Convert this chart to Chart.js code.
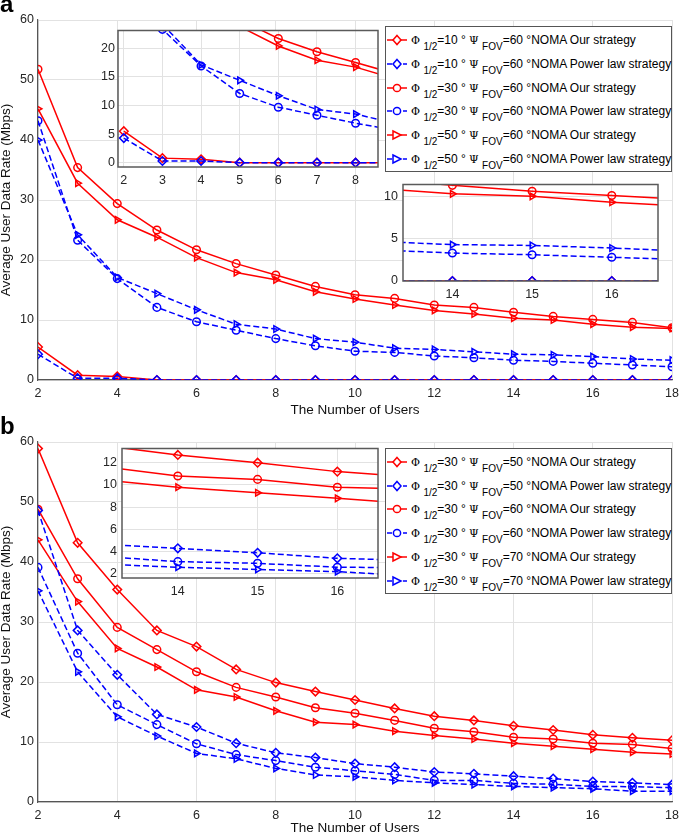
<!DOCTYPE html>
<html>
<head>
<meta charset="utf-8">
<script src="https://cdn.jsdelivr.net/npm/chart.js@4.4.0/dist/chart.umd.min.js"></script>
<style>
  body { margin: 0; background: #fff; font-family: "Liberation Sans", Arial, sans-serif; }
  #wrap { position: relative; width: 685px; height: 836px; overflow: hidden; }
  canvas { position: absolute; }
  .panel { position: absolute; left: 0; font: bold 24px/24px "Liberation Sans", Arial, sans-serif; }
  .legend { position: absolute; background: #fff; border: 1.5px solid #555; box-sizing: border-box; }
  .row { position: absolute; left: 0; height: 20px; display: flex; align-items: center; white-space: nowrap; font-size: 12px; color: #000; }
  .row svg { flex: none; }
  .row .txt { margin-left: 4px; }
  .row .gr { font-family: "DejaVu Serif", serif; font-size: 11px; }
  .row sub { font-size: 10px; vertical-align: -6px; line-height: 0; }
</style>
</head>
<body>
<div id="wrap">
  <canvas id="mainA" width="685" height="418" style="left:0;top:0"></canvas>
  <canvas id="mainB" width="685" height="418" style="left:0;top:418px"></canvas>
  <canvas id="insetA1" width="290" height="172" style="left:95px;top:20px"></canvas>
  <canvas id="insetA2" width="290" height="130" style="left:380px;top:172px"></canvas>
  <canvas id="insetB" width="290" height="170" style="left:95px;top:436px"></canvas>
  <div id="legA" class="legend" style="left:385px;top:26px;width:287px;height:146px"></div>
  <div id="legB" class="legend" style="left:385px;top:448px;width:287px;height:146px"></div>
  <div class="panel" style="top:-8px">a</div>
  <div class="panel" style="top:414px">b</div>
</div>
<script>
// x values (number of users)
const users = [2,3,4,5,6,7,8,9,10,11,12,13,14,15,16,17,18];

// panel a: Psi_FOV = 60, different Phi_1/2
const aPhi10Our   = [5.5,0.8,0.6,0,0,0,0,0,0,0,0,0,0,0,0,0,0];
const aPhi10Power = [4.3,0.3,0.3,0,0,0,0,0,0,0,0,0,0,0,0,0,0];
const aPhi30Our   = [51.8,35.4,29.4,25.0,21.7,19.4,17.5,15.6,14.2,13.6,12.5,12.1,11.3,10.6,10.1,9.6,8.7];
const aPhi30Power = [43.2,23.3,16.9,12.1,9.7,8.3,6.9,5.7,4.8,4.6,4.0,3.7,3.3,3.1,2.8,2.5,2.2];
const aPhi50Our   = [45.2,32.8,26.7,23.8,20.4,17.9,16.7,14.7,13.5,12.5,11.6,11.0,10.3,10.0,9.3,8.8,8.6];
const aPhi50Power = [40.0,24.2,17.1,14.4,11.7,9.3,8.5,6.9,6.3,5.3,5.1,4.7,4.3,4.2,3.9,3.5,3.3];

// panel b: Phi_1/2 = 30, different Psi_FOV
const bFov50Our   = [58.9,43.2,35.4,28.6,25.9,22.1,19.9,18.4,17.0,15.6,14.3,13.6,12.7,12.0,11.2,10.7,10.3];
const bFov50Power = [48.6,28.6,21.2,14.6,12.5,9.8,8.2,7.4,6.4,5.8,5.0,4.7,4.3,3.9,3.4,3.2,2.9];
const bFov60Our   = [48.8,37.2,29.1,25.4,21.7,19.1,17.5,15.7,14.8,13.6,12.3,11.7,10.8,10.5,9.8,9.6,8.9];
const bFov60Power = [39.1,24.8,16.2,12.9,9.7,7.9,6.9,5.8,5.2,4.6,3.6,3.6,3.1,2.95,2.6,2.55,2.4];
const bFov70Our   = [43.7,33.4,25.6,22.5,18.7,17.5,15.2,13.3,12.9,11.8,11.1,10.5,9.8,9.3,8.8,8.3,8.0];
const bFov70Power = [35.2,21.7,14.2,11.0,8.1,7.2,5.6,4.5,4.2,3.6,3.2,2.9,2.6,2.4,2.2,1.8,1.8];

// legend parameters
const aPhi = [10,10,30,30,50,50];
const aFov = [60,60,60,60,60,60];
const bPhi = [30,30,30,30,30,30];
const bFov = [50,50,60,60,70,70];
const strategies = ['Our strategy','Power law strategy'];

// tick labels
const mainXTicks = [2,4,6,8,10,12,14,16,18];
const mainYTicks = [0,10,20,30,40,50,60];
const insetA1XTicks = [2,3,4,5,6,7,8];
const insetA1YTicks = [0,5,10,15,20];
const insetA2XTicks = [14,15,16];
const insetA2YTicks = [0,5,10];
const insetBXTicks = [14,15,16];
const insetBYTicks = [2,4,6,8,10,12];

const RED = '#ff0000';
const BLUE = '#0000ff';
const FONT = '"Liberation Sans", Arial, sans-serif';
Chart.defaults.font.family = FONT;
Chart.defaults.color = '#262626';

function pts(vals) {
  return vals.map((v, i) => ({ x: users[i], y: v }));
}

function series(vals, color, shape, dashed, r) {
  return {
    data: pts(vals),
    order: dashed ? 0 : 1,   // dashed blue lines sit on top, as in the figure
    borderColor: color,
    backgroundColor: color,
    borderWidth: 1.5,
    borderDash: dashed ? [6, 3] : [],
    pointStyle: shape === 'diamond' ? 'rectRot' : (shape === 'tri' ? 'triangle' : 'circle'),
    pointRotation: shape === 'tri' ? 90 : 0,
    pointRadius: shape === 'diamond' ? r + 0.5 : r,
    pointBorderWidth: 1.5,
    pointBackgroundColor: 'rgba(0,0,0,0)',
    pointBorderColor: color,
    tension: 0
  };
}

function setsA(r) {
  return [
    series(aPhi10Our, RED, 'diamond', false, r),
    series(aPhi10Power, BLUE, 'diamond', true, r),
    series(aPhi30Our, RED, 'circle', false, r),
    series(aPhi30Power, BLUE, 'circle', true, r),
    series(aPhi50Our, RED, 'tri', false, r),
    series(aPhi50Power, BLUE, 'tri', true, r)
  ];
}

function setsB(r) {
  return [
    series(bFov50Our, RED, 'diamond', false, r),
    series(bFov50Power, BLUE, 'diamond', true, r),
    series(bFov60Our, RED, 'circle', false, r),
    series(bFov60Power, BLUE, 'circle', true, r),
    series(bFov70Our, RED, 'tri', false, r),
    series(bFov70Power, BLUE, 'tri', true, r)
  ];
}

// white plot area and full box for the insets
const insetBox = {
  id: 'insetBox',
  beforeDraw(chart) {
    const a = chart.chartArea, ctx = chart.ctx;
    ctx.save();
    ctx.fillStyle = '#fff';
    ctx.fillRect(a.left, a.top, a.right - a.left, a.bottom - a.top);
    ctx.restore();
  },
  afterDraw(chart) {
    const a = chart.chartArea, ctx = chart.ctx;
    ctx.save();
    ctx.strokeStyle = '#5a5a5a';
    ctx.lineWidth = 1.5;
    ctx.strokeRect(a.left, a.top, a.right - a.left, a.bottom - a.top);
    ctx.restore();
  }
};

function fixTicks(list) {
  return function (scale) { scale.ticks = list.map(v => ({ value: v })); };
}

function makeMain(id, datasets, padTop, xHeight) {
  return new Chart(document.getElementById(id), {
    type: 'line',
    data: { datasets: datasets },
    options: {
      responsive: false,
      animation: false,
      events: [],
      layout: { padding: { top: padTop, right: 7, left: 0, bottom: 0 } },
      plugins: { legend: { display: false }, tooltip: { enabled: false } },
      scales: {
        x: {
          type: 'linear', min: 2, max: 18,
          afterBuildTicks: fixTicks(mainXTicks),
          ticks: { font: { size: 12.5 }, padding: 6, maxRotation: 0, color: '#262626' },
          grid: { color: '#e2e2e2', drawTicks: false },
          border: { color: '#555', width: 1.2 },
          title: { display: true, text: 'The Number of Users', color: '#111', font: { size: 13.5, lineHeight: 1.2 }, padding: 0 },
          afterFit: s => { s.height = xHeight; }
        },
        y: {
          min: 0, max: 60,
          afterBuildTicks: fixTicks(mainYTicks),
          ticks: { font: { size: 12.5 }, padding: 4, color: '#262626' },
          grid: { color: '#e2e2e2', drawTicks: false },
          border: { color: '#555', width: 1.2 },
          title: { display: true, text: 'Average User Data Rate (Mbps)', color: '#111', font: { size: 13.5, lineHeight: 1 }, padding: 0 },
          afterFit: s => { s.width = 38; }
        }
      }
    }
  });
}

function makeInset(id, datasets, xr, yr, xt, yt, pad, yW, xH, xPad, yPad) {
  return new Chart(document.getElementById(id), {
    type: 'line',
    data: { datasets: datasets },
    plugins: [insetBox],
    options: {
      responsive: false,
      animation: false,
      events: [],
      layout: { padding: pad },
      plugins: { legend: { display: false }, tooltip: { enabled: false } },
      scales: {
        x: {
          type: 'linear', min: xr[0], max: xr[1],
          afterBuildTicks: fixTicks(xt),
          ticks: { font: { size: 12.5 }, padding: xPad, maxRotation: 0, color: '#262626' },
          grid: { color: '#e2e2e2', drawTicks: false },
          border: { display: false },
          afterFit: s => { s.height = xH; }
        },
        y: {
          min: yr[0], max: yr[1],
          afterBuildTicks: fixTicks(yt),
          ticks: { font: { size: 12.5 }, padding: yPad, color: '#262626' },
          grid: { color: '#e2e2e2', drawTicks: false },
          border: { display: false },
          afterFit: s => { s.width = yW; }
        }
      }
    }
  });
}

makeMain('mainA', setsA(3.8), 20, 38);
makeMain('mainB', setsB(3.8), 24, 34);

makeInset('insetA1', setsA(3.8), [1.85, 8.58], [-0.75, 23.1], insetA1XTicks, insetA1YTicks,
  { top: 8, right: 7, left: 0, bottom: 0 }, 23, 25, 6, 3);
makeInset('insetA2', setsA(3.8), [13.38, 16.58], [0, 11.4], insetA2XTicks, insetA2YTicks,
  { top: 6, right: 12, left: 0, bottom: 0 }, 23, 21, 6, 5);
makeInset('insetB', setsB(3.8), [13.3, 16.51], [1.63, 13.28], insetBXTicks, insetBYTicks,
  { top: 8, right: 7, left: 0, bottom: 0 }, 27, 28, 6, 5);

// legends built as HTML so the sub-scripts stay real text
function symbol(color, shape, dashed) {
  const dash = dashed ? ' stroke-dasharray="5,3"' : '';
  let m;
  if (shape === 'diamond') m = '<polygon points="10,1.5 14,6 10,10.5 6,6" fill="#fff" stroke="' + color + '" stroke-width="1.5"/>';
  else if (shape === 'circle') m = '<circle cx="10" cy="6" r="3.6" fill="#fff" stroke="' + color + '" stroke-width="1.5"/>';
  else m = '<polygon points="6,2 14,6 6,10" fill="#fff" stroke="' + color + '" stroke-width="1.5"/>';
  return '<svg width="20" height="12"><line x1="0" y1="6" x2="20" y2="6" stroke="' + color + '" stroke-width="1.5"' + dash + '/>' + m + '</svg>';
}

function buildLegend(id, phis, fovs, spacing) {
  const el = document.getElementById(id);
  const shapes = ['diamond','diamond','circle','circle','tri','tri'];
  for (let i = 0; i < 6; i++) {
    const power = i % 2 === 1;
    const row = document.createElement('div');
    row.className = 'row';
    row.style.top = (3 + i * spacing) + 'px';
    row.style.left = '1px';
    row.innerHTML = symbol(power ? BLUE : RED, shapes[i], power) +
      '<span class="txt"><span class="gr">Φ</span> <sub>1/2</sub>=' + phis[i] +
      ' ° <span class="gr">Ψ</span> <sub>FOV</sub>=' + fovs[i] + ' °NOMA ' +
      strategies[power ? 1 : 0] + '</span>';
    el.appendChild(row);
  }
}

buildLegend('legA', aPhi, aFov, 23.8);
buildLegend('legB', bPhi, bFov, 23.7);
</script>
</body>
</html>
